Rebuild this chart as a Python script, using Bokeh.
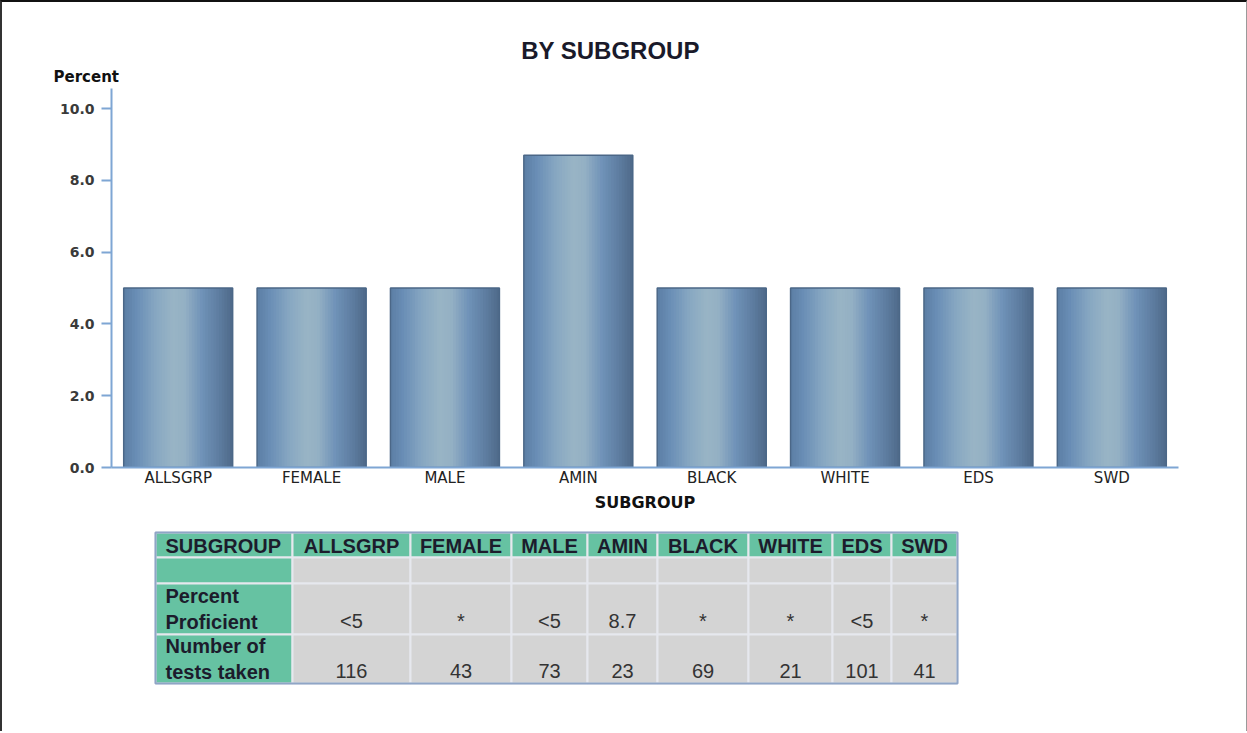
import numpy as np
from bokeh.plotting import figure
from bokeh.models import (ColumnDataSource, FactorRange, Range1d, FixedTicker,
                          PrintfTickFormatter)
from bokeh.transform import dodge
from bokeh.layouts import column
from bokeh.embed import file_html
from bokeh.resources import INLINE
from bokeh.core.properties import value

# ---------------- data ----------------
categories = ["ALLSGRP", "FEMALE", "MALE", "AMIN", "BLACK", "WHITE", "EDS", "SWD"]
percent_values = [5.0, 5.0, 5.0, 8.7, 5.0, 5.0, 5.0, 5.0]
percent_labels = ["<5", "*", "<5", "8.7", "*", "*", "<5", "*"]
tests_taken = [116, 43, 73, 23, 69, 21, 101, 41]
y_ticks = [0, 2, 4, 6, 8, 10]
table_corner = "SUBGROUP"
row_labels = ["", "Percent\nProficient", "Number of\ntests taken"]
chart_title = "BY SUBGROUP"
y_title = "Percent"
x_title = "SUBGROUP"

# ---------------- style ----------------
W = 1244
AXIS_BLUE = "#7ea6d4"
GRAD_POS = [0.0, 0.12, 0.30, 0.45, 0.56, 0.72, 0.88, 1.0]
GRAD_COL = ["#5c7ea4", "#6a8eb6", "#88a8c2", "#98b4c5", "#94b0c4", "#6f92b8", "#5d7c9f", "#4e6989"]
BAR_W = 0.817
N_STRIPS = 40


def hex2rgb(h):
    h = h.lstrip("#")
    return np.array([int(h[i:i + 2], 16) for i in (0, 2, 4)], dtype=float)


def grad_color(t):
    cols = [hex2rgb(c) for c in GRAD_COL]
    for k in range(len(GRAD_POS) - 1):
        if GRAD_POS[k] <= t <= GRAD_POS[k + 1]:
            f = (t - GRAD_POS[k]) / (GRAD_POS[k + 1] - GRAD_POS[k])
            c = cols[k] * (1 - f) + cols[k + 1] * f
            return "#%02x%02x%02x" % tuple(int(round(v)) for v in c)
    return GRAD_COL[-1]


def blank(fig):
    fig.outline_line_color = None
    fig.xgrid.grid_line_color = None
    fig.ygrid.grid_line_color = None


# ---------------- header (title + y title) ----------------
HH = 86
h = figure(x_range=Range1d(0, W), y_range=Range1d(HH, 0), width=W, height=HH,
           output_backend="svg", toolbar_location=None, x_axis_type=None,
           y_axis_type=None, min_border=0)
blank(h)
h.text(x=[608], y=[47.5], text=[chart_title], text_align="center",
       text_baseline="middle", text_font=value("Liberation Sans"),
       text_font_style="bold", text_font_size="24px", text_color="#1a1a2a")
h.text(x=[51], y=[74], text=[y_title], text_align="left", text_baseline="middle",
       text_font=value("DejaVu Sans"), text_font_style="bold",
       text_font_size="15px", text_color="#111111")

# ---------------- bar chart ----------------
src = ColumnDataSource(dict(cat=categories, val=percent_values))

p = figure(x_range=FactorRange(*categories, range_padding=0),
           y_range=Range1d(0, 10.56),
           width=W, height=436, output_backend="svg", toolbar_location=None,
           min_border_left=109, min_border_right=68, min_border_top=0,
           min_border_bottom=57)
blank(p)

s = BAR_W / N_STRIPS
for i in range(N_STRIPS):
    left = -BAR_W / 2 + i * s
    w = BAR_W - i * s
    off = left + w / 2
    p.vbar(x=dodge("cat", off, range=p.x_range), top="val", bottom=0, width=w,
           source=src, fill_color=grad_color((i + 0.5) / N_STRIPS), line_color=None)
p.vbar(x="cat", top="val", bottom=0, width=BAR_W, source=src,
       fill_alpha=0, line_color="#4b6787", line_width=1.5)

ya = p.yaxis[0]
ya.ticker = FixedTicker(ticks=y_ticks)
ya.formatter = PrintfTickFormatter(format="%.1f")
ya.axis_line_color = AXIS_BLUE
ya.axis_line_width = 2
ya.major_tick_line_color = AXIS_BLUE
ya.major_tick_line_width = 2
ya.major_tick_out = 10
ya.major_tick_in = 0
ya.minor_tick_line_color = None
ya.major_label_standoff = 7
ya.major_label_text_font = "DejaVu Sans"
ya.major_label_text_font_style = "bold"
ya.major_label_text_font_size = "14px"
ya.major_label_text_color = "#3a3a3a"

xa = p.xaxis[0]
xa.axis_line_color = AXIS_BLUE
xa.axis_line_width = 2
xa.major_tick_line_color = None
xa.major_tick_out = 0
xa.major_tick_in = 0
xa.minor_tick_line_color = None
xa.major_label_standoff = 1
xa.major_label_text_font = "DejaVu Sans"
xa.major_label_text_font_size = "15px"
xa.major_label_text_color = "#222222"
xa.axis_label = x_title
xa.axis_label_standoff = 3
xa.axis_label_text_font = "DejaVu Sans"
xa.axis_label_text_font_style = "bold"
xa.axis_label_text_font_size = "16px"
xa.axis_label_text_color = "#111111"

# ---------------- table ----------------
TH = 207
COL_W = [137, 118, 101, 76, 70, 91, 84, 59, 66]
ROW_H = [25, 26, 51, 49]
T_LEFT, T_TOP = 153, 8
GREEN = "#66c2a2"
GRAY = "#d4d4d4"

t = figure(x_range=Range1d(0, W), y_range=Range1d(TH, 0), width=W, height=TH,
           output_backend="svg", toolbar_location=None, x_axis_type=None,
           y_axis_type=None, min_border=0)
blank(t)

xe = T_LEFT + np.concatenate([[0], np.cumsum(COL_W)])
ye = T_TOP + np.concatenate([[0], np.cumsum(ROW_H)])

L, R, TP, B, C = [], [], [], [], []
for r in range(len(ROW_H)):
    for c in range(len(COL_W)):
        L.append(xe[c]); R.append(xe[c + 1]); TP.append(ye[r]); B.append(ye[r + 1])
        C.append(GREEN if (r == 0 or c == 0) else GRAY)
t.quad(left=L, right=R, top=TP, bottom=B, fill_color=C, line_color="#e6e8ee",
       line_width=2)
t.quad(left=[xe[0]], right=[xe[-1]], top=[ye[0]], bottom=[ye[-1]], fill_color=None,
       line_color="#8fa5c6", line_width=2)

hx = [xe[0] + 10] + [(xe[c] + xe[c + 1]) / 2 for c in range(1, len(COL_W))]
hy = [(ye[0] + ye[1]) / 2 + 1] * len(COL_W)
halign = ["left"] + ["center"] * len(categories)
hsrc = ColumnDataSource(dict(x=hx, y=hy, t=[table_corner] + categories, a=halign))
t.text(x="x", y="y", text="t", text_align="a", source=hsrc,
       text_font=value("Liberation Sans"), text_font_style="bold",
       text_font_size="20px", text_baseline="middle", text_color="#1c1c2c")

rl_y = [(ye[r + 1] + ye[r + 2]) / 2 for r in range(len(row_labels))]
rsrc = ColumnDataSource(dict(x=[xe[0] + 10] * len(row_labels), y=rl_y, t=row_labels))
t.text(x="x", y="y", text="t", source=rsrc, text_font=value("Liberation Sans"),
       text_font_style="bold", text_font_size="20px", text_align="left",
       text_baseline="middle", text_line_height=1.15, text_color="#1c1c2c")

cx = [(xe[c] + xe[c + 1]) / 2 for c in range(1, len(COL_W))]
vsrc = ColumnDataSource(dict(
    x=cx + cx,
    y=[rl_y[1] + 12] * len(cx) + [rl_y[2] + 12] * len(cx),
    t=percent_labels + [str(v) for v in tests_taken]))
t.text(x="x", y="y", text="t", source=vsrc, text_font=value("Liberation Sans"),
       text_font_size="20px", text_align="center", text_baseline="middle",
       text_color="#333333")

layout = column(column(h), p, column(t), spacing=0,
                styles={"border-top": "2px solid #111111",
                        "border-left": "2px solid #333333",
                        "border-right": "1px solid #9a9a9a"})
open("out.html", "w").write(file_html(layout, INLINE))
